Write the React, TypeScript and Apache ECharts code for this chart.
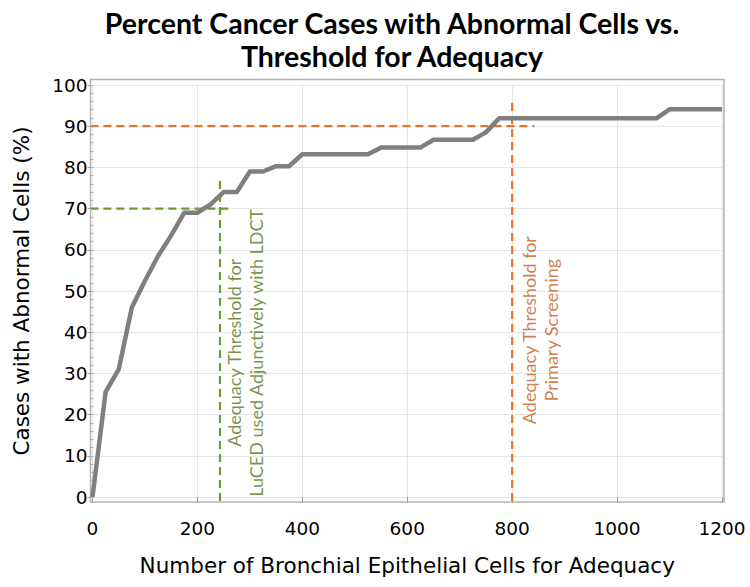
import React, { useEffect, useRef } from "react";
import * as echarts from "echarts";

// Cumulative curve: number of bronchial epithelial cells vs % cancer cases with abnormal cells
const cellCounts = [0, 25, 50, 75, 100, 125, 150, 175, 200, 225, 250, 275, 300, 325, 350, 375, 400, 525, 550, 625, 650, 725, 750, 775, 1075, 1100, 1200];
const percentCases = [0, 25.5, 31, 46, 52.5, 58.5, 63.5, 69, 69, 71, 74, 74, 79, 79, 80.3, 80.3, 83.2, 83.2, 84.8, 84.8, 86.7, 86.7, 88.5, 91.9, 91.9, 94.1, 94.1];

// Threshold reference lines
const adjunctThreshold = 243; // cells
const adjunctPercent = 70;
const adjunctHLineEnd = 266;
const adjunctVLineTop = 77;
const primaryThreshold = 800;
const primaryPercent = 90;
const primaryHLineEnd = 842;
const primaryVLineTop = 96;
const lineStartX = -4;
const lineStartY = -1;

// Annotation anchors (data coordinates)
const adjunctLabel = { x: 290, y: 35, text: "Adequacy Threshold for\nLuCED used Adjunctively with LDCT" };
const primaryLabel = { x: 853, y: 40.5, text: "Adequacy Threshold for\nPrimary Screening" };

const xTicks = { min: 0, max: 1200, interval: 200 };
const yTicks = { min: 0, max: 100, interval: 10 };

const titleText = "Percent Cancer Cases with Abnormal Cells vs.\nThreshold for Adequacy";
const xTitle = "Number of Bronchial Epithelial Cells for Adequacy";
const yTitle = "Cases with Abnormal Cells (%)";

const GREEN = "#6f9a2e";
const GREEN_TEXT = "#57761f";
const ORANGE = "#ea7420";
const ORANGE_TEXT = "#c2601c";

export default function App() {
  const ref = useRef<HTMLDivElement>(null);
  useEffect(() => {
    if (!ref.current) return;
    const chart = echarts.init(ref.current, null, { renderer: "svg" });
    const curve = cellCounts.map((c, i) => [c, percentCases[i]]);
    const dashed = (color: string) => ({
      color,
      width: 2.2,
      type: [8, 5] as any,
    });
    const axisFont = { fontFamily: "DejaVu Sans", color: "#000" };
    chart.setOption({
      animation: false,
      backgroundColor: "#ffffff",
      title: {
        text: titleText,
        left: 392,
        top: 6,
        padding: 0,
        textAlign: "center",
        textStyle: {
          fontFamily: "Lato",
          fontWeight: "bold",
          fontSize: 28.5,
          lineHeight: 33,
          color: "#000",
        },
      },
      grid: { left: 92.5, right: 28, top: 85, bottom: 90 },
      graphic: [
        {
          type: "rect",
          silent: true,
          z: 0,
          shape: { x: 90.5, y: 79.5, width: 633.5, height: 422.5 },
          style: { fill: "none", stroke: "#b4b4b4", lineWidth: 1.5 },
        },
      ],
      xAxis: {
        type: "value",
        min: xTicks.min,
        max: xTicks.max,
        interval: xTicks.interval,
        offset: 5,
        axisLine: { show: false },
        axisTick: { show: true, length: 6, lineStyle: { color: "#a0a0a0" } },
        axisLabel: { ...axisFont, fontSize: 18.5, margin: 17, formatter: (v: number) => String(v) },
        splitLine: { show: true, lineStyle: { color: "#e6e6e6", width: 1 } },
        name: xTitle,
        nameLocation: "middle",
        nameGap: 52,
        nameTextStyle: { ...axisFont, fontSize: 21.5 },
      },
      yAxis: [
        {
          type: "value",
          min: yTicks.min,
          max: yTicks.max,
          interval: yTicks.interval,
          offset: 2,
          axisLine: { show: false },
          axisTick: { show: true, length: 5, lineStyle: { color: "#a0a0a0" } },
          axisLabel: { ...axisFont, fontSize: 18.5, margin: 3 },
          splitLine: { show: true, lineStyle: { color: "#e6e6e6", width: 1 } },
          name: yTitle,
          nameLocation: "middle",
          nameGap: 58,
          nameRotate: 90,
          nameTextStyle: { ...axisFont, fontSize: 21.5 },
        },
        {
          type: "value",
          min: yTicks.min,
          max: yTicks.max,
          interval: yTicks.interval,
          position: "left",
          offset: 2,
          axisLine: { show: false },
          axisLabel: { show: false },
          splitLine: { show: false },
          axisTick: { show: true, inside: true, length: 3, lineStyle: { color: "#b4b4b4" } },
          minorTick: { show: true, splitNumber: 5, length: 3, lineStyle: { color: "#b4b4b4" } },
        },
      ],
      series: [
        {
          type: "line",
          name: "adjunctH",
          data: [[lineStartX, adjunctPercent], [adjunctHLineEnd, adjunctPercent]],
          symbol: "none",
          clip: false,
          lineStyle: dashed(GREEN),
          z: 3,
        },
        {
          type: "line",
          name: "adjunctV",
          data: [[adjunctThreshold, lineStartY], [adjunctThreshold, adjunctVLineTop]],
          symbol: "none",
          clip: false,
          lineStyle: dashed(GREEN),
          z: 3,
        },
        {
          type: "line",
          name: "primaryH",
          data: [[lineStartX, primaryPercent], [primaryHLineEnd, primaryPercent]],
          symbol: "none",
          clip: false,
          lineStyle: dashed(ORANGE),
          z: 3,
        },
        {
          type: "line",
          name: "primaryV",
          data: [[primaryThreshold, lineStartY], [primaryThreshold, primaryVLineTop]],
          symbol: "none",
          clip: false,
          lineStyle: dashed(ORANGE),
          z: 3,
        },
        {
          type: "line",
          name: "curve",
          data: curve,
          symbol: "none",
          lineStyle: { color: "#7f7f7f", width: 4.5, join: "round" },
          z: 4,
        },
        {
          type: "scatter",
          name: "labels",
          symbolSize: 1,
          itemStyle: { color: "rgba(0,0,0,0)" },
          silent: true,
          data: [
            {
              value: [adjunctLabel.x, adjunctLabel.y],
              label: { color: GREEN_TEXT, formatter: adjunctLabel.text },
            },
            {
              value: [primaryLabel.x, primaryLabel.y],
              label: { color: ORANGE_TEXT, formatter: primaryLabel.text },
            },
          ],
          label: {
            show: true,
            position: "inside",
            rotate: 90,
            align: "center",
            verticalAlign: "middle",
            fontFamily: "Lato",
            fontSize: 18,
            lineHeight: 22,
          },
          z: 5,
        },
      ],
    });
    return () => chart.dispose();
  }, []);
  return (
    <div
      ref={ref}
      style={{ position: "fixed", left: 0, top: 0, width: 750, height: 587 }}
    />
  );
}
